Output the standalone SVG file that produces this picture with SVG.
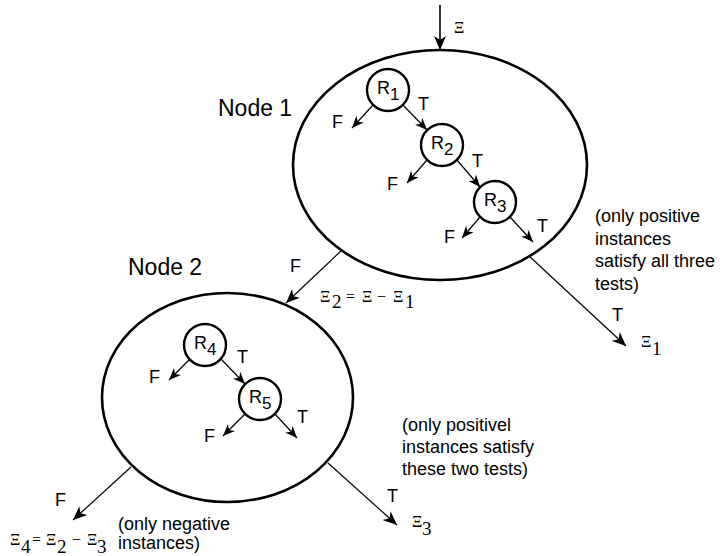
<svg xmlns="http://www.w3.org/2000/svg" width="720" height="556" viewBox="0 0 720 556">
<style>
.bg{fill:#fff}
.big{fill:none;stroke:#000;stroke-width:2.6}
.rc{fill:#fff;stroke:#000;stroke-width:2.4}
.ln{fill:none;stroke:#000;stroke-width:1.2}
.lnt{fill:none;stroke:#000;stroke-width:1.6}
.t{font-family:"Liberation Sans",Arial,sans-serif;font-size:18px;fill:#000}
.nl{font-family:"Liberation Sans",Arial,sans-serif;font-size:23px;fill:#000}
.r{font-family:"Liberation Sans",Arial,sans-serif;font-size:18px;fill:#000}
.rs{font-size:17px}
.xi{font-family:"Liberation Serif","Times New Roman",serif;font-size:16px;fill:#000}
.xs{font-family:"Liberation Serif","Times New Roman",serif;font-size:19px;fill:#000}
</style>
<defs>
<marker id="ah" markerUnits="userSpaceOnUse" viewBox="0 0 15 13" markerWidth="15" markerHeight="13" refX="14" refY="6.5" orient="auto">
<path d="M0,0.5 L14,6.5 L0,12.5 L4,6.5 Z" fill="#000"/>
</marker>
<marker id="ahs" markerUnits="userSpaceOnUse" viewBox="0 0 13 11" markerWidth="13" markerHeight="11" refX="12" refY="5.5" orient="auto">
<path d="M0,0.5 L12,5.5 L0,10.5 L3.5,5.5 Z" fill="#000"/>
</marker>
</defs>
<rect class="bg" x="0" y="0" width="720" height="556"/>

<g id="node1">
<ellipse class="big" cx="440" cy="165" rx="147" ry="115"/>
<text class="nl" x="218" y="116">Node 1</text>
</g>
<g id="node2">
<ellipse class="big" cx="227.5" cy="397.5" rx="125.5" ry="104.5"/>
<text class="nl" x="128" y="275">Node 2</text>
</g>

<g id="connectors">
<line class="lnt" x1="440" y1="5" x2="440" y2="50" marker-end="url(#ah)"/>
<line class="ln" x1="373" y1="105" x2="352" y2="128" marker-end="url(#ahs)"/>
<line class="ln" x1="403" y1="105" x2="427" y2="130" marker-end="url(#ahs)"/>
<line class="ln" x1="427" y1="160" x2="407" y2="183" marker-end="url(#ahs)"/>
<line class="ln" x1="457" y1="160" x2="480" y2="187" marker-end="url(#ahs)"/>
<line class="ln" x1="480" y1="217" x2="462" y2="238" marker-end="url(#ahs)"/>
<line class="ln" x1="510" y1="217" x2="533" y2="242" marker-end="url(#ahs)"/>
<line class="ln" x1="190" y1="359" x2="169" y2="380" marker-end="url(#ahs)"/>
<line class="ln" x1="221" y1="359" x2="245" y2="384" marker-end="url(#ahs)"/>
<line class="ln" x1="245" y1="414" x2="223" y2="436" marker-end="url(#ahs)"/>
<line class="ln" x1="275" y1="414" x2="297" y2="438" marker-end="url(#ahs)"/>
<line class="ln" x1="342" y1="250" x2="286" y2="303" marker-end="url(#ah)"/>
<line class="ln" x1="529" y1="256" x2="626" y2="346" marker-end="url(#ah)"/>
<line class="ln" x1="131" y1="467" x2="73" y2="520" marker-end="url(#ah)"/>
<line class="ln" x1="328" y1="463" x2="397" y2="525" marker-end="url(#ah)"/>
</g>

<g id="R1"><circle class="rc" cx="388" cy="90" r="21"/><text class="r" x="377" y="94">R<tspan class="rs" dy="6">1</tspan></text></g>
<g id="R2"><circle class="rc" cx="442" cy="145" r="21"/><text class="r" x="431" y="149">R<tspan class="rs" dy="6">2</tspan></text></g>
<g id="R3"><circle class="rc" cx="495" cy="202" r="21"/><text class="r" x="484" y="206">R<tspan class="rs" dy="6">3</tspan></text></g>
<g id="R4"><circle class="rc" cx="205" cy="345" r="21"/><text class="r" x="194" y="349">R<tspan class="rs" dy="6">4</tspan></text></g>
<g id="R5"><circle class="rc" cx="260" cy="399" r="21"/><text class="r" x="249" y="403">R<tspan class="rs" dy="6">5</tspan></text></g>

<g id="labels">
<text class="t" x="332" y="128">F</text>
<text class="t" x="418" y="110">T</text>
<text class="t" x="387" y="190">F</text>
<text class="t" x="472" y="167">T</text>
<text class="t" x="444" y="243">F</text>
<text class="t" x="537" y="232">T</text>
<text class="t" x="290" y="272">F</text>
<text class="t" x="612" y="321">T</text>
<text class="t" x="149" y="383">F</text>
<text class="t" x="237" y="363">T</text>
<text class="t" x="204" y="442">F</text>
<text class="t" x="297" y="423">T</text>
<text class="t" x="55" y="506">F</text>
<text class="t" x="387" y="502">T</text>

<text class="xi" x="454" y="33">Ξ</text>

<text class="xi" x="320" y="302">Ξ</text><text class="xs" x="332" y="308">2</text>
<text class="xi" x="346" y="302">=</text>
<text class="xi" x="362" y="302">Ξ</text>
<text class="xi" x="377" y="302">−</text>
<text class="xi" x="393" y="302">Ξ</text><text class="xs" x="405" y="308">1</text>

<text class="xi" x="641" y="347">Ξ</text><text class="xs" x="652" y="355">1</text>
<text class="xi" x="412" y="527">Ξ</text><text class="xs" x="422" y="535">3</text>

<text class="xi" x="10" y="545">Ξ</text><text class="xs" x="21" y="553">4</text>
<text class="xi" x="32" y="545">=</text>
<text class="xi" x="46" y="545">Ξ</text><text class="xs" x="57" y="553">2</text>
<text class="xi" x="72" y="545">−</text>
<text class="xi" x="87" y="545">Ξ</text><text class="xs" x="97" y="553">3</text>

<text class="t" x="595" y="222">(only positive</text>
<text class="t" x="595" y="244.5">instances</text>
<text class="t" x="595" y="267">satisfy all three</text>
<text class="t" x="595" y="289.5">tests)</text>

<text class="t" x="402" y="431">(only positivel</text>
<text class="t" x="402" y="453">instances satisfy</text>
<text class="t" x="402" y="475">these two tests)</text>

<text class="t" x="118" y="530">(only negative</text>
<text class="t" x="118" y="549">instances)</text>
</g>
</svg>
